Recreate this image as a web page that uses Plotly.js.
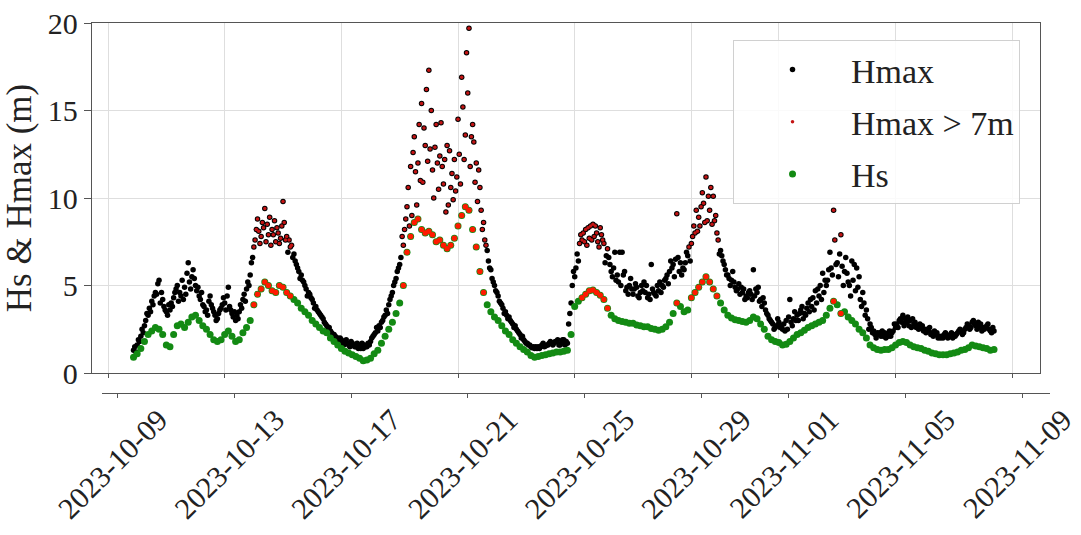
<!DOCTYPE html>
<html>
<head>
<meta charset="utf-8">
<script src="https://cdn.plot.ly/plotly-3.0.1.min.js"></script>
<style>html,body{margin:0;padding:0;background:#fff;}#chart{width:1081px;height:535px;}</style>
</head>
<body>
<div id="chart"></div>
<script>
// ---- data ----
const startTime = '2023-10-09T21:00:00Z';   // first sample
const stepHours = 3;                        // sampling step of hs / hmax
const offsetBHours = 1;                     // second Hmax sample set
const offsetCHours = 2;                     // third Hmax sample set

const hs = [
  0.9,1.1,1.4,1.8,2.2,2.4,2.6,2.5,2.2,
  1.6,1.5,2.2,2.7,2.8,2.6,2.9,3.2,
  3.3,3.0,2.7,2.5,2.2,1.9,1.8,1.9,
  2.2,2.4,2.1,1.8,1.9,2.3,2.6,3.0,
  3.9,4.5,4.8,5.2,5.0,4.7,4.6,5.0,
  4.9,4.6,4.4,4.2,4.0,3.7,3.5,3.3,
  3.0,2.8,2.6,2.4,
  2.3,2.0,1.8,1.6,
  1.4,1.25,1.15,1.05,0.95,0.85,0.7,0.75,
  0.85,1.1,1.3,1.7,2.1,2.5,2.9,3.4,
  4.0,5.0,6.9,7.8,8.6,8.8,8.2,8.0,
  8.1,7.9,7.5,7.6,7.3,7.1,7.3,7.7,
  8.4,9.0,9.5,9.3,8.2,7.2,5.8,4.6,
  3.9,3.5,3.2,3.0,2.7,2.4,2.2,1.9,
  1.7,1.5,1.35,1.2,1.0,0.9,0.95,1.0,
  1.05,1.1,
  1.15,1.2,1.2,1.25,1.3,2.2,
  3.8,4.1,4.3,4.5,4.7,4.75,4.6,4.45,
  4.2,3.7,3.3,3.1,3.0,2.95,2.9,2.85,
  2.85,2.75,2.7,2.65,2.65,2.55,2.5,2.45,
  2.5,2.65,2.9,3.4,4.0,3.8,3.5,3.6,
  4.3,4.6,4.9,5.2,5.5,5.2,4.8,4.4,
  4.0,3.6,3.3,3.15,3.05,3.0,2.95,2.9,
  3.0,3.2,3.1,2.8,2.5,2.1,1.9,
  1.8,
  1.75,1.6,1.65,1.8,2.0,2.2,2.3,2.45,
  2.6,2.7,2.8,2.9,3.0,3.3,3.7,4.1,
  3.9,3.4,3.5,3.2,3.0,2.8,2.5,2.3,
  2.0,1.6,1.45,1.35,1.3,1.35,1.35,1.45,
  1.6,1.75,1.8,1.75,1.6,1.5,1.45,1.4,
  1.3,1.25,1.15,1.1,1.05,1.05,1.05,1.1,
  1.15,1.2,1.3,1.35,1.45,1.6,1.55,1.5,
  1.45,1.4,1.3,1.35
];

const hmax = [
  1.3,1.6,2.1,2.7,3.3,4.1,4.6,5.3,4.2,
  3.5,3.6,4.3,5.0,4.4,4.9,6.3,5.5,
  5.0,4.4,3.9,3.6,4.4,3.5,3.1,3.7,
  4.0,4.9,3.4,3.0,3.5,4.2,4.8,5.6,
  7.2,8.8,7.8,9.4,7.9,8.2,7.5,7.4,
  9.8,7.8,7.2,6.8,6.0,5.6,5.0,4.6,
  4.2,3.8,3.4,3.1,
  2.7,2.4,2.2,2.0,
  1.9,1.8,1.6,1.7,1.5,1.6,1.4,1.5,
  1.8,2.2,2.4,2.9,3.3,3.9,4.6,5.4,
  6.2,7.3,9.5,11.8,13.5,12.0,15.4,13.0,
  17.3,11.6,14.2,12.4,10.8,13.0,10.6,12.2,
  14.5,16.9,13.6,19.7,14.2,12.0,10.6,8.6,
  7.0,5.9,5.0,4.4,3.9,3.5,3.2,2.8,
  2.5,2.2,1.9,1.7,1.5,1.4,1.5,1.6,
  1.55,1.7,
  1.6,1.8,1.6,1.9,1.7,4.0,
  5.5,6.4,7.6,8.2,7.7,8.5,8.0,8.3,
  7.4,7.1,5.8,6.9,5.2,6.9,4.7,5.0,
  4.5,4.9,4.6,5.2,4.3,6.2,4.5,4.7,
  5.0,5.4,5.8,6.2,9.1,6.3,5.9,6.7,
  7.4,8.0,8.9,10.3,11.2,9.3,10.1,8.0,
  7.0,6.2,5.6,5.3,4.9,5.1,4.6,4.4,
  4.7,5.9,4.6,4.2,4.0,3.3,2.9,
  2.6,
  2.9,2.5,3.0,4.2,3.1,3.3,3.6,3.4,
  4.0,3.8,4.7,4.4,5.7,5.0,6.9,9.3,
  6.3,7.9,5.8,5.2,6.4,4.7,5.5,4.6,
  3.6,2.8,2.4,2.3,2.1,2.3,2.1,2.3,
  2.6,3.0,3.3,2.9,3.0,2.8,2.7,2.6,
  2.5,2.4,2.3,2.2,2.1,2.0,2.1,2.2,
  2.2,2.3,2.4,2.5,2.7,2.9,2.7,2.6,
  2.6,2.7,2.4,2.4
];

const hmaxB = [
  1.5,1.9,2.5,3.0,3.7,3.9,4.5,4.0,3.8,
  3.3,4.0,4.6,4.1,5.3,4.5,5.2,5.9,
  4.7,4.2,3.8,3.3,3.9,3.3,3.4,3.9,
  3.6,3.8,3.2,3.3,3.9,4.5,5.2,6.3,
  7.6,8.1,8.6,7.5,8.9,7.9,8.3,7.7,
  8.6,6.9,7.3,6.4,5.8,5.3,4.8,4.5,
  4.0,3.6,3.3,2.9,
  2.5,2.3,2.1,1.8,
  1.7,1.9,1.5,1.6,1.7,1.4,1.6,1.7,
  2.0,2.3,2.7,3.0,3.6,4.2,5.0,5.8,
  6.6,8.2,10.6,9.0,11.5,14.2,10.9,16.2,
  12.8,10.0,12.0,14.3,12.2,9.6,11.4,10.4,
  12.5,15.2,18.3,11.8,13.2,9.8,9.3,7.6,
  6.4,5.4,4.7,4.1,3.7,3.3,3.0,2.6,
  2.4,2.0,1.8,1.6,1.45,1.5,1.4,1.7,
  1.6,1.8,
  1.7,1.9,1.7,1.6,2.8,5.0,
  6.0,7.4,8.0,7.3,8.4,7.8,7.5,7.9,
  6.3,6.6,5.5,5.3,6.9,5.6,4.9,5.4,
  4.8,4.4,5.0,4.6,4.5,4.8,4.4,5.2,
  4.9,5.6,6.4,5.5,6.6,5.6,6.3,7.2,
  7.8,9.3,8.4,9.7,8.7,10.6,8.7,7.6,
  6.7,5.9,5.4,5.8,4.7,4.5,4.8,4.3,
  4.5,4.4,4.9,3.8,3.6,3.1,2.8,
  2.7,
  2.6,2.8,2.5,2.9,3.5,3.0,3.8,3.3,
  3.5,4.3,4.0,5.0,4.6,5.3,6.0,7.6,
  5.5,6.1,6.6,5.0,5.3,6.0,4.2,4.0,
  3.1,2.6,2.2,2.2,2.4,2.0,2.4,2.4,
  2.8,3.1,2.7,3.2,2.6,2.9,2.5,2.7,
  2.3,2.6,2.1,2.3,2.0,2.2,2.0,2.3,
  2.1,2.4,2.2,2.6,2.5,3.0,2.5,2.8,
  2.5,2.8,2.3
];

const hmaxC = [
  1.2,1.8,2.3,3.4,3.5,4.4,5.1,4.6,3.6,
  3.9,3.8,4.8,4.6,4.2,5.7,4.8,5.4,
  4.9,4.6,3.5,4.1,3.7,3.0,3.6,4.3,
  4.4,3.6,3.5,3.1,3.7,4.1,5.0,6.6,
  8.2,7.4,8.3,8.5,7.3,8.7,8.0,8.4,
  7.6,7.6,6.6,6.2,5.4,5.2,4.4,4.3,
  3.7,3.5,3.2,2.8,
  2.6,2.2,2.0,2.0,
  1.6,1.7,1.8,1.5,1.4,1.7,1.5,1.6,
  2.1,2.6,2.6,3.2,3.4,4.4,5.2,6.0,
  7.8,8.8,8.4,12.6,9.6,11.0,14.0,12.1,
  15.0,12.9,10.5,11.8,9.2,12.7,9.9,11.2,
  10.8,12.2,16.0,13.5,10.9,11.6,8.2,7.3,
  6.0,5.2,4.6,4.0,3.4,3.1,2.9,2.7,
  2.3,2.1,1.7,1.6,1.5,1.4,1.5,1.5,
  1.6,1.7,
  1.8,1.6,1.9,1.8,3.4,5.8,
  6.8,7.9,7.5,8.3,7.6,8.4,7.2,7.6,
  6.7,6.2,6.0,5.6,5.0,5.8,4.5,4.8,
  5.1,4.3,4.7,5.0,4.2,4.6,5.0,4.6,
  5.3,5.1,6.0,6.5,5.8,6.0,6.9,6.4,
  8.4,8.1,9.5,8.6,10.1,8.5,9.0,6.8,
  6.4,5.6,5.0,5.2,4.8,4.9,4.2,4.6,
  4.2,4.8,4.1,4.3,3.4,3.0,2.5,
  3.1,
  2.7,2.4,3.2,2.7,3.0,3.4,3.1,3.7,
  4.2,3.6,4.8,4.2,5.3,5.9,5.6,6.2,
  6.8,5.0,5.7,4.4,6.2,4.9,3.8,3.3,
  2.5,2.3,2.0,2.3,2.1,2.2,2.1,2.8,
  2.6,2.9,3.1,2.7,3.1,2.6,2.8,2.4,
  2.5,2.2,2.4,2.0,2.1,2.3,2.1,2.0,
  2.2,2.5,2.3,2.8,2.6,2.8,2.9,2.4,
  2.6,2.5,2.6
];

const threshold = 7;
const tickDates = ['2023-10-09','2023-10-13','2023-10-17','2023-10-21','2023-10-25','2023-10-29','2023-11-01','2023-11-05','2023-11-09'];
const tickLabels = ['2023-10-09','2023-10-13','2023-10-17','2023-10-21','2023-10-25','2023-10-29','2023-11-01','2023-11-05','2023-11-09'];
const yTicks = [0, 5, 10, 15, 20];

// ---- build ----
function timeAt(i, offsetH) {
  const t = new Date(Date.parse(startTime) + (i * stepHours + offsetH) * 3600e3);
  return t.toISOString().slice(0, 16).replace('T', ' ');
}
const times = hs.map((_, i) => timeAt(i, 0));
const timesB = hmaxB.map((_, i) => timeAt(i, offsetBHours));
const timesC = hmaxC.map((_, i) => timeAt(i, offsetCHours));

const allHmaxX = times.concat(timesB, timesC);
const allHmaxY = hmax.concat(hmaxB, hmaxC);
const redHmaxX = [], redHmaxY = [];
allHmaxY.forEach((v, i) => { if (v > threshold) { redHmaxX.push(allHmaxX[i]); redHmaxY.push(v); } });
const redHsX = [], redHsY = [];
hmax.forEach((v, i) => { if (v > threshold) { redHsX.push(times[i]); redHsY.push(hs[i]); } });

const FONT = 'Liberation Serif';

const traces = [
  {type: 'scatter', mode: 'markers', name: 'Hmax', x: allHmaxX, y: allHmaxY,
   marker: {color: '#000000', size: 5.5}, legendrank: 1, legendgroup: 'a', hoverinfo: 'skip'},
  {type: 'scatter', mode: 'markers', name: 'Hs', x: times, y: hs,
   marker: {color: '#138a13', size: 7}, legendrank: 3, legendgroup: 'c', hoverinfo: 'skip'},
  {type: 'scatter', mode: 'markers', name: 'Hmax > 7m', x: redHmaxX, y: redHmaxY,
   marker: {color: '#c41414', size: 3.5}, legendrank: 2, legendgroup: 'b', hoverinfo: 'skip'},
  {type: 'scatter', mode: 'markers', name: 'Hs (Hmax > 7m)', x: redHsX, y: redHsY, showlegend: false,
   marker: {color: '#ff1a00', size: 5.5}, legendgroup: 'b', hoverinfo: 'skip'},
  {type: 'scatter', mode: 'markers', x: [], y: [], xaxis: 'x2', yaxis: 'y2', showlegend: false, hoverinfo: 'skip'}
];

const layout = {
  width: 1081, height: 535,
  margin: {l: 92, r: 31, t: 23, b: 142},
  paper_bgcolor: '#ffffff', plot_bgcolor: '#ffffff',
  font: {family: FONT, color: '#222222', size: 30},
  showlegend: true,
  xaxis: {
    type: 'date', domain: [0, 0.98956], anchor: 'y',
    range: ['2023-10-08 10:50', '2023-11-09 22:50'],
    tickmode: 'array', tickvals: tickDates, showticklabels: false,
    showgrid: true, gridcolor: '#dedede', gridwidth: 1,
    showline: true, linecolor: '#555555', linewidth: 1.2, mirror: true,
    ticks: 'outside', ticklen: 4, tickcolor: '#555555', zeroline: false
  },
  yaxis: {
    domain: [0.05405, 1], anchor: 'x', range: [0, 20],
    tickmode: 'array', tickvals: yTicks, ticktext: yTicks.map(String),
    showgrid: true, gridcolor: '#dedede', gridwidth: 1,
    showline: true, linecolor: '#555555', linewidth: 1.2, mirror: true,
    ticks: 'outside', ticklen: 7, tickcolor: '#555555', zeroline: false,
    tickfont: {family: FONT, size: 30, color: '#222222'},
    title: {text: 'Hs & Hmax (m)', font: {family: FONT, size: 35, color: '#222222'}, standoff: 8}
  },
  xaxis2: {
    type: 'date', domain: [0.01044, 1], anchor: 'y2',
    range: ['2023-10-08 11:00', '2023-11-09 23:00'],
    tickmode: 'array', tickvals: tickDates, ticktext: tickLabels,
    tickangle: -45, ticklabelshift: 41, ticklabelstandoff: -8,
    ticklabeloverflow: 'allow',
    tickfont: {family: FONT, size: 30, color: '#222222'},
    showgrid: false, showline: true, linecolor: '#555555', linewidth: 1.2,
    ticks: 'outside', ticklen: 4, tickcolor: '#555555', zeroline: false
  },
  yaxis2: {domain: [0, 0.05], anchor: 'x2', visible: false, range: [0, 1]},
  legend: {
    x: 0.9687, xanchor: 'right', y: 0.954, yanchor: 'top',
    bgcolor: 'rgba(255,255,255,0.85)', bordercolor: '#d0d0d0', borderwidth: 1,
    font: {family: FONT, size: 34, color: '#222222'},
    traceorder: 'grouped', tracegroupgap: 5, itemwidth: 107
  }
};

Plotly.newPlot('chart', traces, layout, {displayModeBar: false, staticPlot: true});
</script>
</body>
</html>
